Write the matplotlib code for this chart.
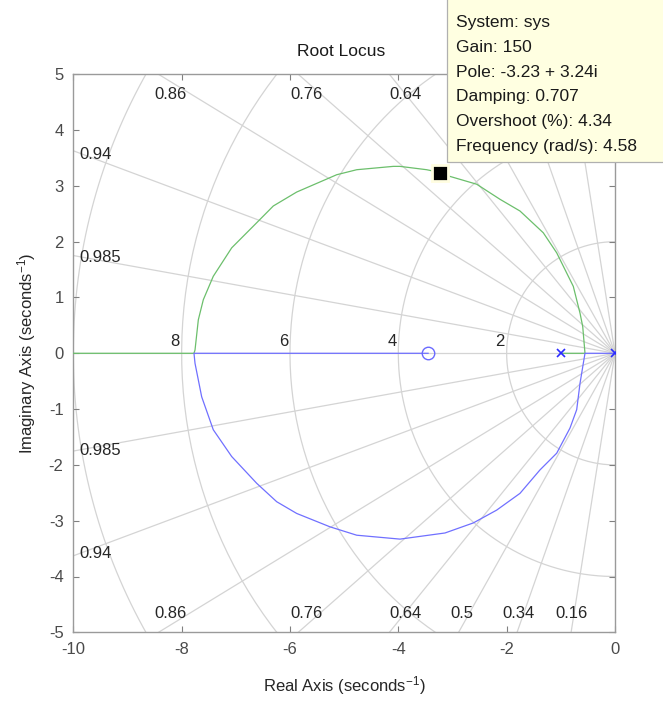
import numpy as np
import matplotlib
matplotlib.use("Agg")
import matplotlib.pyplot as plt
from matplotlib.patches import Rectangle

plt.rcParams['font.family'] = ['Liberation Sans', 'DejaVu Sans']
plt.rcParams['axes.unicode_minus'] = False
plt.rcParams['mathtext.fontset'] = 'custom'
plt.rcParams['mathtext.rm'] = 'Liberation Sans'
plt.rcParams['mathtext.it'] = 'Liberation Sans:italic'

# ---------------- data ----------------
poles_re = [0.0, -1.0]
zeros_re = [-3.45]

# branch starting at pole -1 (upper, green) -> to -inf along real axis
green_x = [-1.0, -0.554, -0.596, -0.646, -0.770, -1.076, -1.324, -1.754, -2.123, -2.553,
           -3.046, -3.23, -3.476, -3.969, -4.093, -4.768, -5.138, -5.876, -6.308, -6.614,
           -7.076, -7.416, -7.600, -7.692, -7.753, -7.772, -10.0]
green_y = [0.0, 0.0, 0.48, 0.72, 1.20, 1.80, 2.16, 2.55, 2.76, 3.03,
           3.17, 3.24, 3.29, 3.35, 3.35, 3.29, 3.20, 2.89, 2.64, 2.34,
           1.89, 1.38, 0.96, 0.60, 0.06, 0.0, 0.0]

# branch starting at pole 0 (lower, blue) -> ends at zero
blue_x = [0.0, -0.554, -0.585, -0.646, -0.707, -0.831, -1.076, -1.385, -1.754, -2.184,
          -2.616, -3.138, -3.969, -4.768, -5.261, -5.876, -6.245, -6.614, -7.076, -7.416,
          -7.630, -7.753, -7.772, -3.45]
blue_y = [0.0, 0.0, -0.18, -0.54, -1.01, -1.34, -1.79, -2.09, -2.51, -2.81,
          -3.04, -3.22, -3.33, -3.26, -3.11, -2.87, -2.66, -2.33, -1.85, -1.37,
          -0.78, -0.18, 0.0, 0.0]

cursor_re, cursor_im = -3.23, 3.24
tip_lines = ["System: sys", "Gain: 150", "Pole: -3.23 + 3.24i", "Damping: 0.707",
             "Overshoot (%): 4.34", "Frequency (rad/s): 4.58"]

zetas = [0.16, 0.34, 0.5, 0.64, 0.76, 0.86, 0.94, 0.985]
wn_values = [2, 4, 6, 8, 10]
wn_labels = ["2", "4", "6", "8"]

xticks = [-10, -8, -6, -4, -2, 0]
yticks = [-5, -4, -3, -2, -1, 0, 1, 2, 3, 4, 5]

# ---------------- figure ----------------
W, H = 663, 706
fig = plt.figure(figsize=(W / 100, H / 100), dpi=100)
ax = fig.add_axes([73.3 / W, 1 - 632.3 / H, (615 - 73.3) / W, (632.3 - 74.3) / H])
ax.set_xlim(-10, 0)
ax.set_ylim(-5, 5)

gcol = '#d4d4d4'
# damping rays
R = 30
for z in zetas:
    th = np.arccos(z)
    for s in (1, -1):
        ax.plot([0, -R * np.cos(th)], [0, s * R * np.sin(th)], color=gcol, lw=0.9, zorder=1)
ax.plot([0, -R], [0, 0], color=gcol, lw=0.9, zorder=1)
# frequency arcs
t = np.linspace(np.pi / 2, 3 * np.pi / 2, 200)
for r in wn_values:
    ax.plot(r * np.cos(t), r * np.sin(t), color=gcol, lw=0.9, zorder=1)

# damping labels (top ones for 0.5/0.34/0.16 are hidden under the data tip)
lab_col = '#262626'
top_x = {"0.86": -8.21, "0.76": -5.70, "0.64": -3.86}
bot_x = {"0.86": -8.21, "0.76": -5.70, "0.64": -3.86, "0.5": -2.82, "0.34": -1.79, "0.16": -0.81}
for lab, xx in top_x.items():
    ax.text(xx, 4.64, lab, ha='center', va='center', fontsize=12, color=lab_col, zorder=2)
for lab, xx in bot_x.items():
    ax.text(xx, -4.66, lab, ha='center', va='center', fontsize=12, color=lab_col, zorder=2)
left_y = {"0.94": 3.56, "0.985": 1.71}
for lab, yy in left_y.items():
    ax.text(-9.88, yy, lab, ha='left', va='center', fontsize=12, color=lab_col, zorder=2)
    ax.text(-9.88, -yy - 0.03, lab, ha='left', va='center', fontsize=12, color=lab_col, zorder=2)
for lab in wn_labels:
    ax.text(-float(lab) - 0.12, 0.21, lab, ha='center', va='center', fontsize=12,
            color=lab_col, zorder=2)

# locus
ax.plot(green_x, green_y, color='#6cbf6c', lw=0.9, zorder=3)
ax.plot(blue_x, blue_y, color='#7070ff', lw=0.9, zorder=3)
ax.plot(poles_re, [0] * len(poles_re), linestyle='none', marker='x', ms=6, mew=1.2,
        color='#2a2aff', zorder=4)
ax.plot(zeros_re, [0] * len(zeros_re), linestyle='none', marker='o', ms=9, mew=1.0,
        mfc='none', mec='#6a6aff', zorder=4)
ax.plot([cursor_re], [cursor_im], linestyle='none', marker='s', ms=11, mfc='black',
        mec='#fffde0', mew=2.0, zorder=5)

# axes styling
for sp in ax.spines.values():
    sp.set_color('#9a9a9a')
    sp.set_linewidth(1.0)
ax.set_xticks(xticks)
ax.set_yticks(yticks)
ax.tick_params(direction='in', length=4, width=0.8, color='#808080', labelsize=12,
               labelcolor='#4a4a4a', top=True, right=True, pad=7)
ax.set_xlabel('Real Axis (seconds$^{-1}$)', fontsize=12, color='#262626', labelpad=12)
ax.set_ylabel('Imaginary Axis (seconds$^{-1}$)', fontsize=12, color='#262626', labelpad=8)
fig.text(341 / W, 1 - 52 / H, 'Root Locus', ha='center', va='center', fontsize=12.5,
         color='#1a1a1a')

# data tip
box = Rectangle((447 / W, 1 - 162 / H), (W - 447) / W + 0.01, 162 / H + 0.01,
                transform=fig.transFigure, facecolor='#ffffe1', edgecolor='#b0b0b0',
                lw=0.9, zorder=10)
fig.patches.append(box)
for i, line in enumerate(tip_lines):
    fig.text(456 / W, 1 - (23 + i * 24.6) / H, line, ha='left', va='center',
             fontsize=12.5, color='#1a1a1a', zorder=11)

fig.savefig('out.png', dpi=100)
